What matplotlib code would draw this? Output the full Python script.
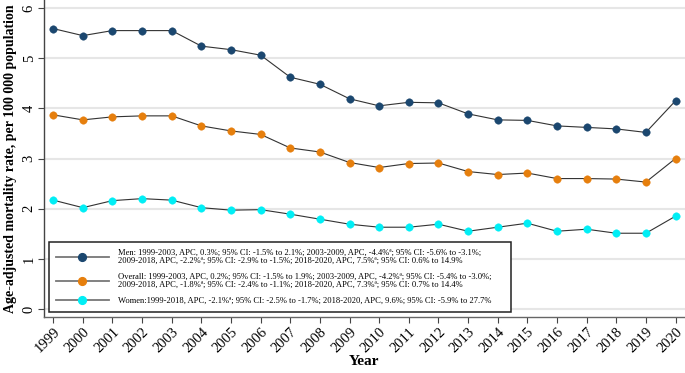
import matplotlib
matplotlib.use("Agg")
import matplotlib.pyplot as plt
from matplotlib.lines import Line2D

years = list(range(1999, 2021))
men = [5.59, 5.45, 5.55, 5.55, 5.55, 5.24, 5.17, 5.06, 4.62, 4.48, 4.19,
       4.05, 4.12, 4.11, 3.89, 3.77, 3.76, 3.65, 3.62, 3.59, 3.52, 4.15]
overall = [3.87, 3.77, 3.83, 3.85, 3.85, 3.65, 3.55, 3.48, 3.21, 3.13, 2.92,
           2.82, 2.90, 2.91, 2.74, 2.68, 2.71, 2.60, 2.60, 2.59, 2.53, 3.00]
women = [2.17, 2.02, 2.16, 2.20, 2.17, 2.02, 1.97, 1.98, 1.89, 1.79, 1.69,
         1.63, 1.63, 1.69, 1.55, 1.63, 1.71, 1.55, 1.59, 1.51, 1.51, 1.85]

labels = [
    "Men: 1999-2003, APC, 0.3%; 95% CI: -1.5% to 2.1%; 2003-2009, APC, -4.4%ª; 95% CI: -5.6% to -3.1%;\n"
    "2009-2018, APC, -2.2%ª; 95% CI: -2.9% to -1.5%; 2018-2020, APC, 7.5%ª; 95% CI: 0.6% to 14.9%",
    "Overall: 1999-2003, APC, 0.2%; 95% CI: -1.5% to 1.9%; 2003-2009, APC, -4.2%ª; 95% CI: -5.4% to -3.0%;\n"
    "2009-2018, APC, -1.8%ª; 95% CI: -2.4% to -1.1%; 2018-2020, APC, 7.3%ª; 95% CI: 0.7% to 14.4%",
    "Women:1999-2018, APC, -2.1%ª; 95% CI: -2.5% to -1.7%; 2018-2020, APC, 9.6%; 95% CI: -5.9% to 27.7%",
]
colors = ["#1b476f", "#e67f0d", "#00eef5"]
series = [men, overall, women]

plt.rcParams['font.family'] = ['Liberation Serif', 'DejaVu Serif']

W, H = 685, 373
fig = plt.figure(figsize=(W / 100, H / 100), dpi=100)
ax = fig.add_axes([44 / W, (H - 317) / H, 1 - 44 / W, 317 / H])

for vals, c in zip(series, colors):
    ax.plot(years, vals, color="#333333", lw=0.8, zorder=2)
    ax.plot(years, vals, ls="none", marker="o", ms=5.4, mfc=c, mec=c, mew=0.3, zorder=3)

ax.set_xlim(1998.69, 2020.32)
ax.set_ylim(-0.16, 6.16)
ax.set_yticks([0, 1, 2, 3, 4, 5, 6])
ax.set_xticks(years)
ax.set_xticklabels([str(y) for y in years], rotation=45, ha="right",
                   rotation_mode="anchor", fontsize=10.5)
ax.set_yticklabels([str(v) for v in range(7)], rotation=90, va="center", fontsize=10.5)
ax.grid(axis="y", color="#e6e6e6", lw=1.5, zorder=0)
ax.set_axisbelow(True)
for s in ["top", "right"]:
    ax.spines[s].set_visible(False)
ax.spines["left"].set_color("#444444")
ax.spines["bottom"].set_color("#666666")
ax.spines["left"].set_linewidth(1.0)
ax.spines["bottom"].set_linewidth(1.0)
ax.tick_params(axis="both", color="#444444", length=4, width=0.8, pad=2)

ax.set_ylabel("Age-adjusted mortality rate, per 100 000 population",
              fontsize=10, fontweight="bold", labelpad=4)
ax.set_xlabel("Year", fontsize=11, fontweight="bold", labelpad=0)

handles = [Line2D([0], [0], color="#777777", lw=1.3, marker="o", ms=5.6,
                  mfc=c, mec=c) for c in colors]
leg = ax.legend(handles, labels, loc="upper left", mode="expand",
                bbox_to_anchor=(49 / W, 1 - 242 / H, 462 / W, 0),
                bbox_transform=fig.transFigure,
                fontsize=6.1, frameon=True, fancybox=False, framealpha=1,
                edgecolor="#222222", handlelength=6.2, handletextpad=1.05,
                borderpad=0.85, labelspacing=0.95, borderaxespad=0)
leg.get_frame().set_linewidth(1.1)
for t in leg.get_texts():
    t.set_linespacing(0.95)

fig.savefig("out.png", dpi=100)
